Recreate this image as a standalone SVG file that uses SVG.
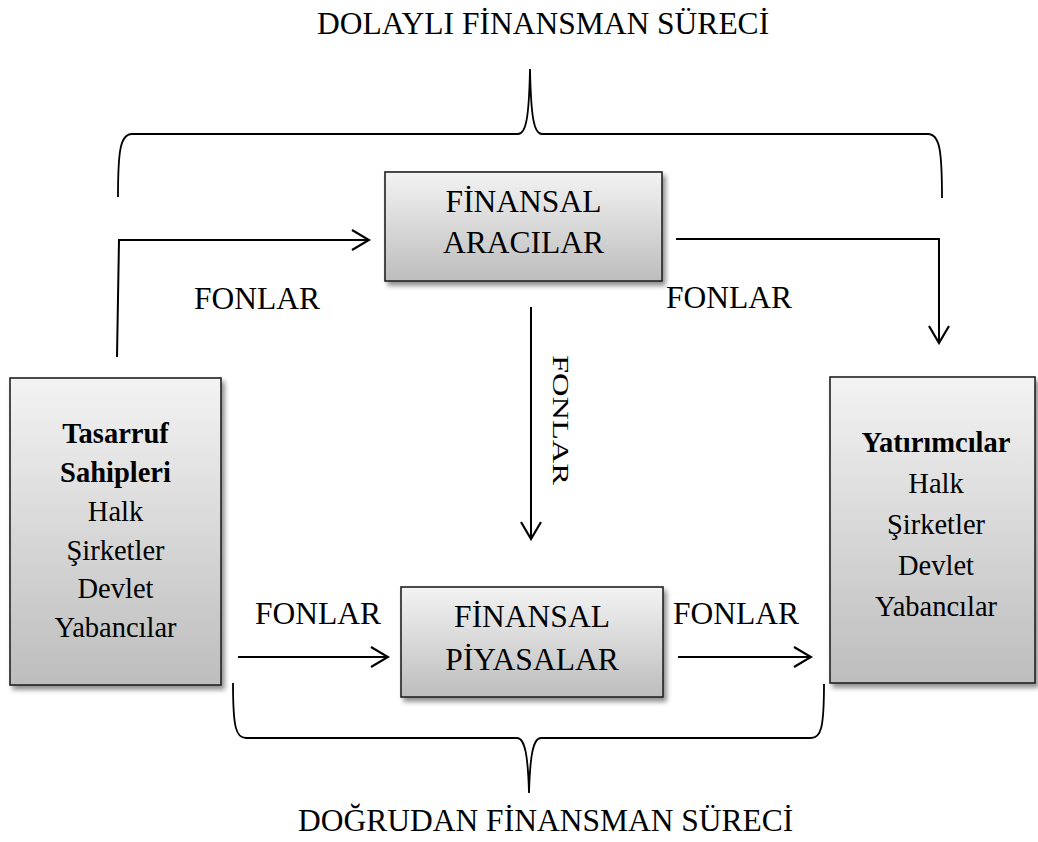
<svg xmlns="http://www.w3.org/2000/svg" width="1038" height="842" viewBox="0 0 1038 842">
<style>
text{font-family:"Liberation Serif","Times New Roman",serif;fill:#000}
.t{font-size:31.5px}
.b{font-size:28.5px}
.bold{font-weight:bold}
.box{fill:url(#g);stroke:#222;stroke-width:1.6;filter:url(#sh)}
.ln{fill:none;stroke:#000;stroke-width:2}
.br{fill:none;stroke:#000;stroke-width:1.8}
</style>
<defs>
<linearGradient id="g" x1="0" y1="0" x2="0" y2="1">
<stop offset="0" stop-color="#f3f3f3"/>
<stop offset="1" stop-color="#bdbdbd"/>
</linearGradient>
<filter id="sh" x="-10%" y="-10%" width="130%" height="130%">
<feGaussianBlur in="SourceAlpha" stdDeviation="2.5"/>
<feOffset dx="3" dy="4" result="o"/>
<feComponentTransfer><feFuncA type="linear" slope="0.45"/></feComponentTransfer>
<feMerge><feMergeNode/><feMergeNode in="SourceGraphic"/></feMerge>
</filter>
<marker id="ah" markerWidth="20" markerHeight="22" refX="18" refY="11" orient="auto" markerUnits="userSpaceOnUse">
<path d="M1,1 L18,11 L1,21" fill="none" stroke="#000" stroke-width="2.2"/>
</marker>
</defs>

<g id="title-top"><text class="t" x="317" y="34">DOLAYLI FİNANSMAN SÜRECİ</text></g>
<g id="title-bottom"><text class="t" x="298" y="831">DOĞRUDAN FİNANSMAN SÜRECİ</text></g>

<g id="braces">
<path class="br" d="M118,197 C118,152 120,134 132,134 L518,134 C526,134 529,118 530,69 C531,118 534,134 542,134 L928,134 C940,134 942,152 942,198"/>
<path class="br" d="M233,683 C233,728 236,738 246,738 L517,738 C525,738 528,756 529,793 C530,756 533,738 541,738 L811,738 C821,738 824,728 824,684"/>
</g>

<g id="connectors">
<polyline class="ln" points="117,357 119,240 369,240" marker-end="url(#ah)"/>
<polyline class="ln" points="676,239 939,239 939,343" marker-end="url(#ah)"/>
<line class="ln" x1="531" y1="307" x2="531" y2="539" marker-end="url(#ah)"/>
<line class="ln" x1="238" y1="657" x2="388" y2="657" marker-end="url(#ah)"/>
<line class="ln" x1="678" y1="657" x2="811" y2="657" marker-end="url(#ah)"/>
</g>

<g id="labels">
<text class="t" x="194" y="309">FONLAR</text>
<text class="t" x="666" y="308">FONLAR</text>
<text class="t" x="255" y="624">FONLAR</text>
<text class="t" x="673" y="624">FONLAR</text>
<text x="0" y="0" font-size="23" fill="#1a2a4c" textLength="130" lengthAdjust="spacingAndGlyphs" transform="translate(553,355) rotate(90)">FONLAR</text>
</g>

<g id="node-aracilar">
<rect class="box" x="385" y="172" width="277" height="109"/>
<text class="t" x="523.5" y="212" text-anchor="middle">FİNANSAL</text>
<text class="t" x="523.5" y="253" text-anchor="middle">ARACILAR</text>
</g>

<g id="node-piyasalar">
<rect class="box" x="401" y="587" width="262" height="110"/>
<text class="t" x="532" y="627" text-anchor="middle">FİNANSAL</text>
<text class="t" x="532" y="670" text-anchor="middle">PİYASALAR</text>
</g>

<g id="node-tasarruf">
<rect class="box" x="10" y="378" width="211" height="307"/>
<text class="b bold" x="115.5" y="443" text-anchor="middle">Tasarruf</text>
<text class="b bold" x="115.5" y="482" text-anchor="middle">Sahipleri</text>
<text class="b" x="115.5" y="521" text-anchor="middle">Halk</text>
<text class="b" x="115.5" y="560" text-anchor="middle">Şirketler</text>
<text class="b" x="115.5" y="598" text-anchor="middle">Devlet</text>
<text class="b" x="115.5" y="637" text-anchor="middle">Yabancılar</text>
</g>

<g id="node-yatirimcilar">
<rect class="box" x="830" y="377" width="205" height="306"/>
<text class="b bold" x="936" y="452" text-anchor="middle">Yatırımcılar</text>
<text class="b" x="936" y="493" text-anchor="middle">Halk</text>
<text class="b" x="936" y="534" text-anchor="middle">Şirketler</text>
<text class="b" x="936" y="575" text-anchor="middle">Devlet</text>
<text class="b" x="936" y="616" text-anchor="middle">Yabancılar</text>
</g>
</svg>
